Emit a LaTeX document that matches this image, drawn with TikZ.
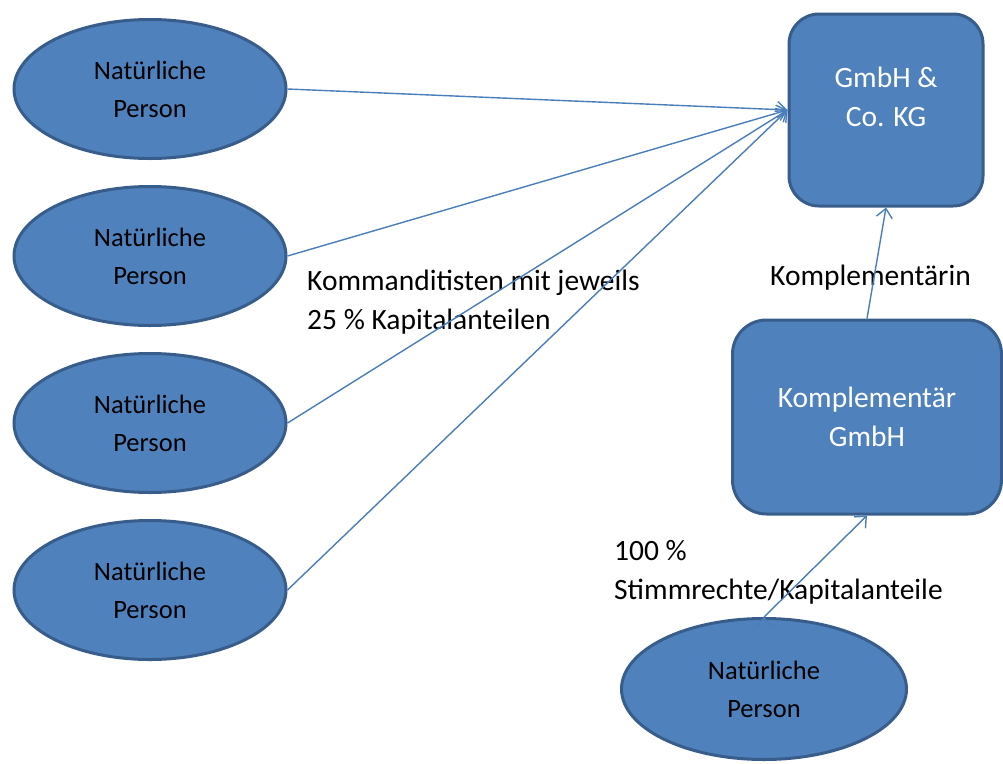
\documentclass[tikz,border=0pt]{standalone}
\usepackage{fontspec}
\setmainfont{Carlito}
\usetikzlibrary{shapes.geometric,positioning,arrows.meta}
\definecolor{boxfill}{HTML}{4F81BD}
\definecolor{boxline}{HTML}{385D8A}
\definecolor{arrowcol}{HTML}{4A7EBB}

\begin{document}
\begin{tikzpicture}[x=1pt,y=1pt,node distance=167pt,
  >={Straight Barb[length=9pt,width=16pt]},
  every node/.style={font=\fontsize{29.5}{39}\selectfont}]
  \tikzstyle{person}=[ellipse,draw=boxline,fill=boxfill,line width=3pt,
    minimum width=272pt,minimum height=139pt,align=center,inner sep=0pt,
    font=\fontsize{26.5}{38}\selectfont]
  \tikzstyle{firm}=[rectangle,draw=boxline,fill=boxfill,line width=3pt,
    text=white,align=center,inner sep=0pt]
  \tikzstyle{txt}=[align=left,anchor=west,inner sep=0pt]
  \useasboundingbox (0,0) rectangle (1003,-763);

  % natural persons (limited partners)
  \node[person] (p1) at (150,-89) {Natürliche\\Person};
  \node[person] (p2) [below of=p1] {Natürliche\\Person};
  \node[person] (p3) [below of=p2] {Natürliche\\Person};
  \node[person] (p4) [below of=p3] {Natürliche\\Person};

  % companies
  \node[firm,rounded corners=30pt,minimum width=194pt,minimum height=192pt,
    label={[text=white,align=center,yshift=13pt]center:{GmbH \&\\Co. KG}}]
    (kg) at (886,-110) {};
  \node[firm,rounded corners=34pt,minimum width=269pt,minimum height=194pt]
    (kompl) at (867,-417) {Komplementär\\GmbH};
  \node[person,minimum width=285pt,minimum height=141pt] (np) at (764,-689)
    {Natürliche\\Person};

  % labels
  \node[txt] (kommtxt) at (307,-302) {Kommanditisten mit jeweils\\25 \% Kapitalanteilen};
  \node[txt] (komptxt) at (770,-278) {Komplementärin};
  \node[txt] (stimmtxt) at (614,-572) {100 \%\\Stimmrechte/Kapitalanteile};

  \path[->,draw=arrowcol,line width=1.4pt]
  (p1.east) edge node {} (kg.west)
  (p2.east) edge node {} (kg.west)
  (p3.east) edge node {} (kg.west)
  (p4.east) edge node {} (kg.west)
  (kompl.north) edge node {} (kg.south)
  (np.north) edge node {} (kompl.south)
  ;
\end{tikzpicture}
\end{document}
